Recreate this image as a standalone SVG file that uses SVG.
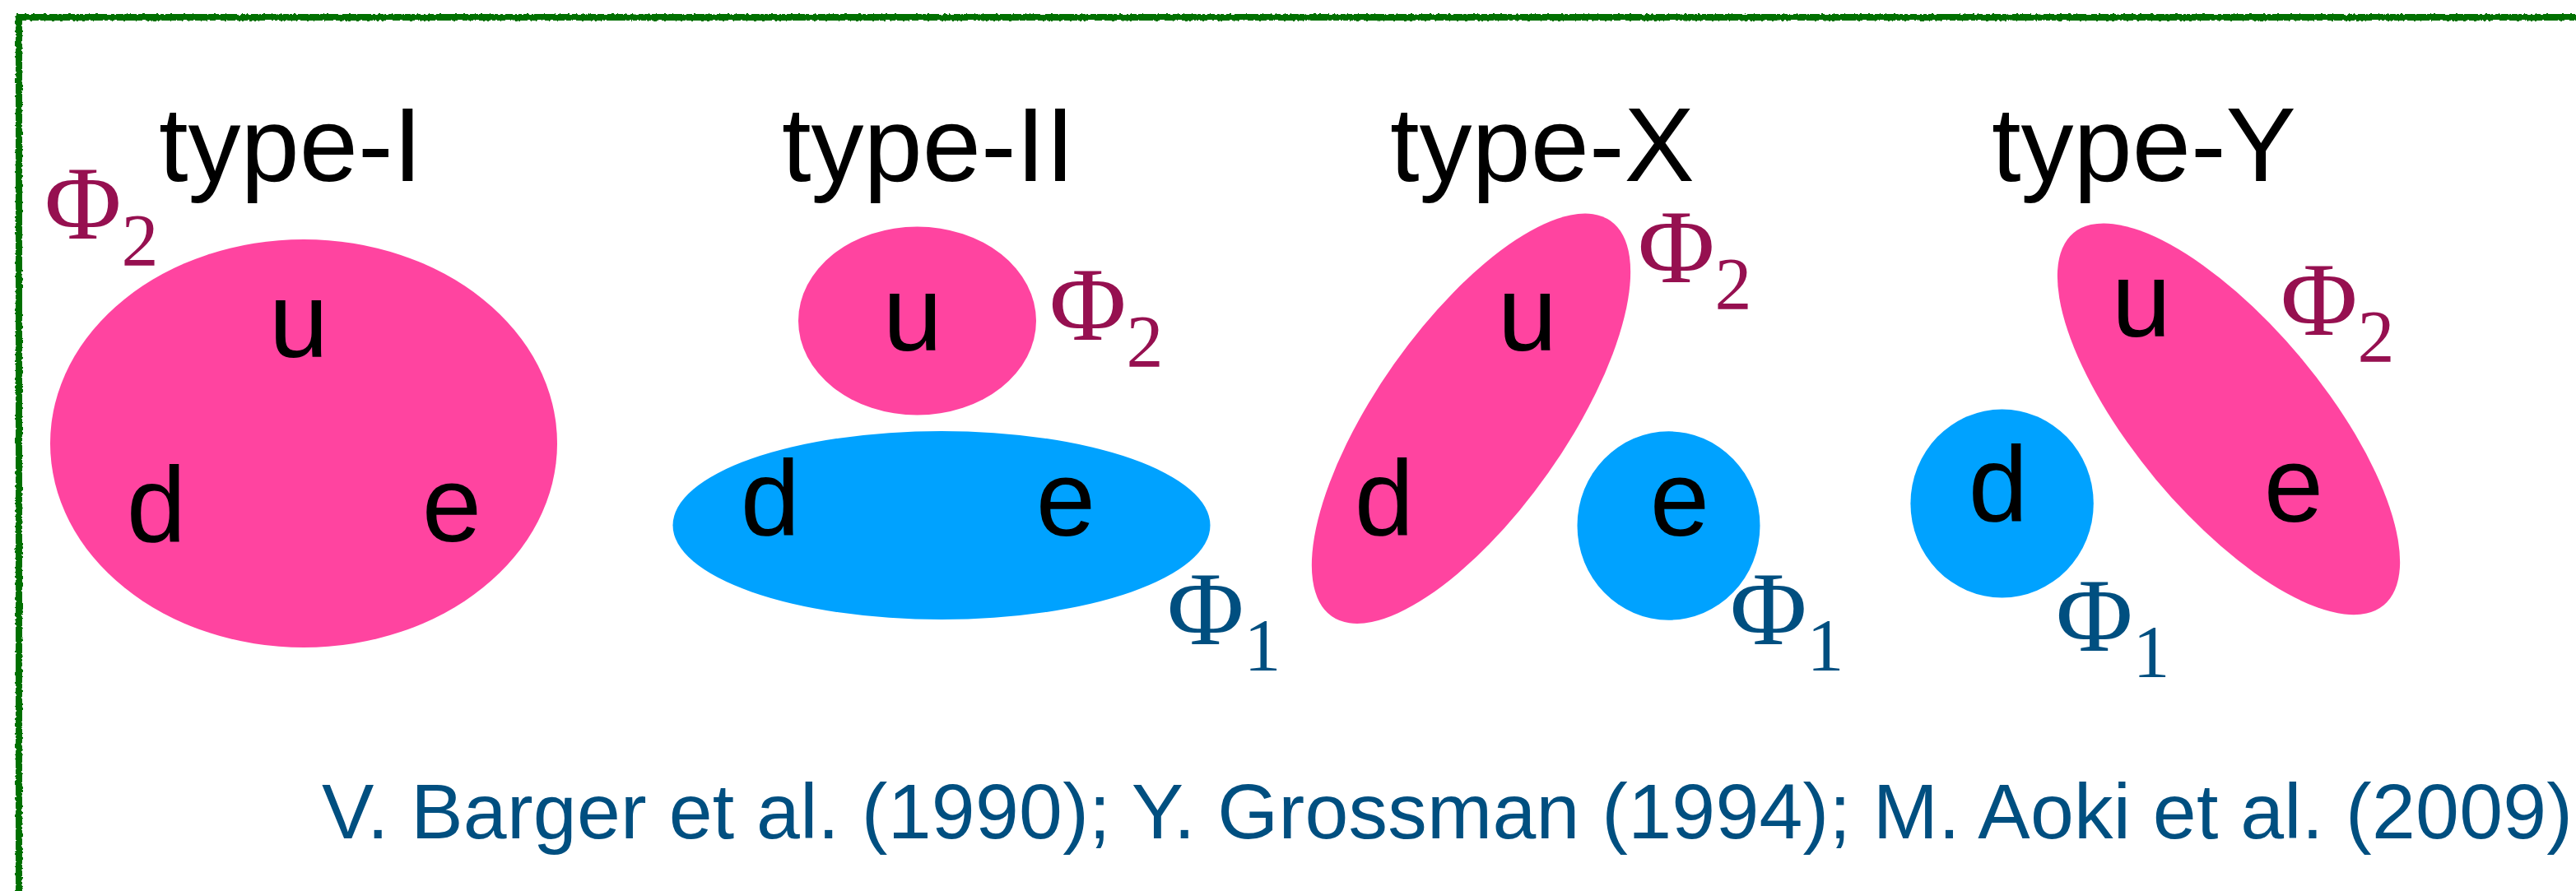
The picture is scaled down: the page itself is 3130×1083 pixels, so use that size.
<svg xmlns="http://www.w3.org/2000/svg" width="3130" height="1083" viewBox="0 0 3130 1083">
  <style>
    .title { font-family: "Liberation Sans", Arial, sans-serif; font-size: 128px; fill: #000; }
    .q { font-family: "Liberation Sans", Arial, sans-serif; font-size: 130px; fill: #000; text-anchor: middle; }
    .phi { font-family: "Liberation Serif", "Times New Roman", serif; font-size: 128px; }
    .sub { font-size: 90px; }
    .p2 { fill: #961050; }
    .p1 { fill: #004f80; }
    .pink { fill: #ff44a0; }
    .blue { fill: #00a2ff; }
    .cite { font-family: "Liberation Sans", Arial, sans-serif; font-size: 95px; fill: #004f80; }
  </style>
  <defs>
    <filter id="rough" filterUnits="userSpaceOnUse" x="0" y="0" width="3130" height="1083">
      <feTurbulence type="fractalNoise" baseFrequency="0.3" numOctaves="2" seed="4" result="n"/>
      <feDisplacementMap in="SourceGraphic" in2="n" scale="4" xChannelSelector="R" yChannelSelector="G"/>
    </filter>
  </defs>
  <rect width="3130" height="1083" fill="#fff"/>

  <g id="frame" filter="url(#rough)">
    <path d="M23 1083 V21 H3130" fill="none" stroke="#007000" stroke-width="8"/>
  </g>

  <g id="type-I">
    <text class="title" x="193" y="220">type-I</text>
    <ellipse class="pink" cx="369" cy="539" rx="308" ry="248"/>
    <text class="q" x="363" y="434">u</text>
    <text class="q" x="190" y="658">d</text>
    <text class="q" x="549" y="658">e</text>
    <text class="phi p2" x="54" y="290">Φ<tspan class="sub" dy="33">2</tspan></text>
  </g>

  <g id="type-II">
    <text class="title" x="950" y="220">type-II</text>
    <ellipse class="pink" cx="1114.5" cy="390" rx="144.5" ry="114.5"/>
    <ellipse class="blue" cx="1144" cy="638.5" rx="326.5" ry="114.5"/>
    <text class="q" x="1109" y="426">u</text>
    <text class="q" x="936" y="650">d</text>
    <text class="q" x="1295" y="651">e</text>
    <text class="phi p2" x="1275" y="413">Φ<tspan class="sub" dy="33">2</tspan></text>
    <text class="phi p1" x="1418" y="783">Φ<tspan class="sub" dy="32">1</tspan></text>
  </g>

  <g id="type-X">
    <text class="title" x="1689" y="220">type-X</text>
    <ellipse class="pink" cx="0" cy="0" rx="114.7" ry="294" transform="translate(1787.5 508.7) rotate(35.2)"/>
    <ellipse class="blue" cx="2027.5" cy="639" rx="111" ry="114.7"/>
    <text class="q" x="1856" y="426">u</text>
    <text class="q" x="1682" y="650">d</text>
    <text class="q" x="2041" y="651">e</text>
    <text class="phi p2" x="1990" y="343">Φ<tspan class="sub" dy="33">2</tspan></text>
    <text class="phi p1" x="2102" y="783">Φ<tspan class="sub" dy="32">1</tspan></text>
  </g>

  <g id="type-Y">
    <text class="title" x="2420" y="220">type-Y</text>
    <ellipse class="pink" cx="0" cy="0" rx="115" ry="294.4" transform="translate(2708 509.3) rotate(-39.8)"/>
    <ellipse class="blue" cx="2432.6" cy="612" rx="111.2" ry="114.4"/>
    <text class="q" x="2602" y="409">u</text>
    <text class="q" x="2428" y="633">d</text>
    <text class="q" x="2787" y="634">e</text>
    <text class="phi p2" x="2771" y="407">Φ<tspan class="sub" dy="33">2</tspan></text>
    <text class="phi p1" x="2498" y="791">Φ<tspan class="sub" dy="32">1</tspan></text>
  </g>

  <g id="citation">
    <text class="cite" x="391" y="1019" textLength="2735">V. Barger et al. (1990); Y. Grossman (1994); M. Aoki et al. (2009)</text>
  </g>
</svg>
